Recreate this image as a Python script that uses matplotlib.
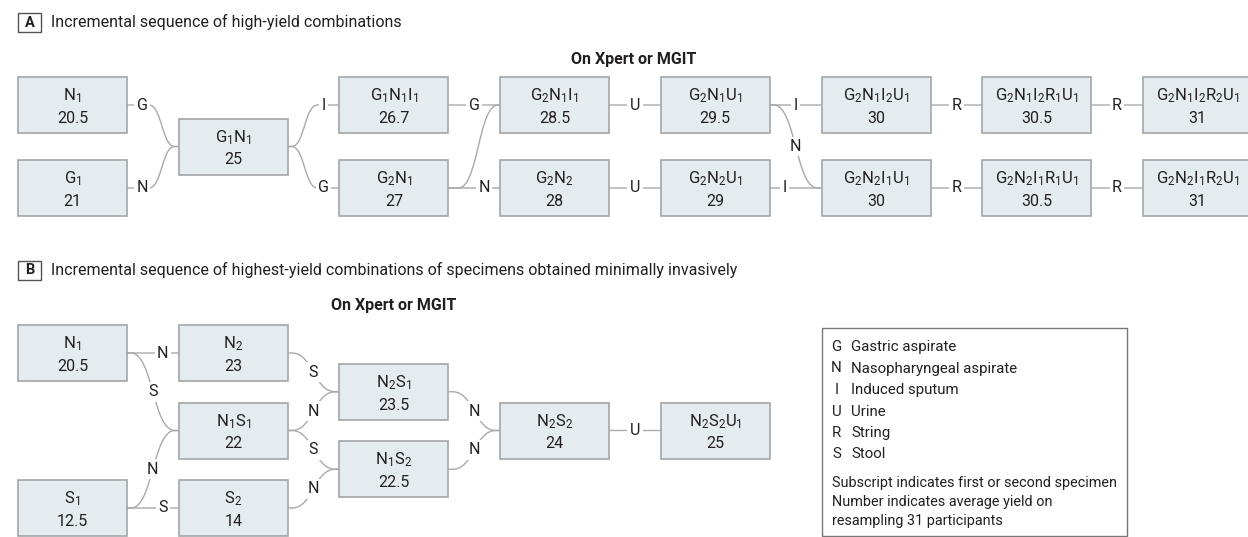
import matplotlib.pyplot as plt
from matplotlib.patches import Rectangle, PathPatch
from matplotlib.path import Path

plt.rcParams['font.family'] = ['Roboto', 'DejaVu Sans']
plt.rcParams['mathtext.fontset'] = 'custom'
plt.rcParams['mathtext.rm'] = 'Roboto'
plt.rcParams['mathtext.it'] = 'Roboto:italic'
plt.rcParams['mathtext.bf'] = 'Roboto:bold'

# ---- data: panel A (high-yield combinations)
a_nodes = ["N_1", "G_1", "G_1N_1", "G_1N_1I_1", "G_2N_1", "G_2N_1I_1", "G_2N_2",
           "G_2N_1U_1", "G_2N_2U_1", "G_2N_1I_2U_1", "G_2N_2I_1U_1",
           "G_2N_1I_2R_1U_1", "G_2N_2I_1R_1U_1", "G_2N_1I_2R_2U_1", "G_2N_2I_1R_2U_1"]
a_yields = [20.5, 21, 25, 26.7, 27, 28.5, 28, 29.5, 29, 30, 30, 30.5, 30.5, 31, 31]
a_edges = [("N_1", "G_1N_1", "G"), ("G_1", "G_1N_1", "N"),
           ("G_1N_1", "G_1N_1I_1", "I"), ("G_1N_1", "G_2N_1", "G"),
           ("G_1N_1I_1", "G_2N_1I_1", "G"), ("G_2N_1", "G_2N_1I_1", ""),
           ("G_2N_1", "G_2N_2", "N"),
           ("G_2N_1I_1", "G_2N_1U_1", "U"), ("G_2N_2", "G_2N_2U_1", "U"),
           ("G_2N_1U_1", "G_2N_1I_2U_1", "I"), ("G_2N_1U_1", "G_2N_2I_1U_1", "N"),
           ("G_2N_2U_1", "G_2N_2I_1U_1", "I"),
           ("G_2N_1I_2U_1", "G_2N_1I_2R_1U_1", "R"), ("G_2N_2I_1U_1", "G_2N_2I_1R_1U_1", "R"),
           ("G_2N_1I_2R_1U_1", "G_2N_1I_2R_2U_1", "R"), ("G_2N_2I_1R_1U_1", "G_2N_2I_1R_2U_1", "R")]

# ---- data: panel B (minimally invasive specimens)
b_nodes = ["N_1", "S_1", "N_2", "N_1S_1", "S_2", "N_2S_1", "N_1S_2", "N_2S_2", "N_2S_2U_1"]
b_yields = [20.5, 12.5, 23, 22, 14, 23.5, 22.5, 24, 25]
b_edges = [("N_1", "N_2", "N"), ("N_1", "N_1S_1", "S"), ("S_1", "N_1S_1", "N"),
           ("S_1", "S_2", "S"), ("N_2", "N_2S_1", "S"), ("N_1S_1", "N_2S_1", "N"),
           ("N_1S_1", "N_1S_2", "S"), ("S_2", "N_1S_2", "N"),
           ("N_2S_1", "N_2S_2", "N"), ("N_1S_2", "N_2S_2", "N"), ("N_2S_2", "N_2S_2U_1", "U")]

legend_keys = ["G", "N", "I", "U", "R", "S"]
legend_names = ["Gastric aspirate", "Nasopharyngeal aspirate", "Induced sputum",
                "Urine", "String", "Stool"]
legend_notes = ["Subscript indicates first or second specimen",
                "Number indicates average yield on",
                "resampling 31 participants"]

# ---- layout (grid column / row of each box, label placement per edge)
a_grid = [(0, 0), (0, 1), (1, 0.5), (2, 0), (2, 1), (3, 0), (3, 1), (4, 0), (4, 1),
          (5, 0), (5, 1), (6, 0), (6, 1), (7, 0), (7, 1)]
a_where = ["src", "src", "tgt", "tgt", "mid", "none", "tgt", "mid", "mid",
           "mid", "mid", "src", "mid", "mid", "mid", "mid"]
b_grid = [(0, 0), (0, 2), (1, 0), (1, 1), (1, 2), (2, 0.5), (2, 1.5), (3, 1), (4, 1)]
b_where = ["tgt", "mid", "mid", "tgt", "mid", "mid", "mid", "mid", "mid", "mid", "mid"]

FS = 11.5
LEG_FS = 10.4
BOX_W, BOX_H = 109, 56
COL0, COL_STEP = 18, 160.7
BOX_FILL, BOX_EDGE = "#e5ecf0", "#a3a6a8"
LINE_C = "#a9a9a9"
TXT = "#231f20"


def draw_node(ax, x, yc, name, val):
    ax.add_patch(Rectangle((x, yc - BOX_H / 2), BOX_W, BOX_H, facecolor=BOX_FILL,
                           edgecolor=BOX_EDGE, lw=1.2, zorder=2))
    ax.text(x + BOX_W / 2, yc - 4.5, "$\\mathregular{%s}$" % name, ha="center",
            va="baseline", fontsize=FS + 0.5, color=TXT, zorder=3)
    ax.text(x + BOX_W / 2, yc + 18, f"{val:g}", ha="center", va="baseline",
            fontsize=FS, color=TXT, zorder=3)


def draw_edge(ax, p0, p1, letter, where):
    (x0, y0), (x1, y1) = p0, p1
    lx = ly = None
    if where == "src":
        xa, xb = x0 + 22, x1 - 4
        lx, ly = x0 + 15, y0
    elif where == "tgt":
        xa, xb = x0 + 4, x1 - 22
        lx, ly = x1 - 16, y1
    elif where == "mid":
        xa, xb = x0 + 4, x1 - 4
        lx, ly = (xa + xb) / 2, (y0 + y1) / 2
    else:
        xa, xb = x0 + 10, x1 - 2
    xm = (xa + xb) / 2
    verts = [(x0, y0), (xa, y0), (xm, y0), (xm, y1), (xb, y1), (x1, y1)]
    codes = [Path.MOVETO, Path.LINETO, Path.CURVE4, Path.CURVE4, Path.CURVE4, Path.LINETO]
    ax.add_patch(PathPatch(Path(verts, codes), fill=False, edgecolor=LINE_C, lw=1.0, zorder=1))
    if letter:
        ax.text(lx, ly, letter, ha="center", va="center", fontsize=FS, color=TXT, zorder=3,
                bbox=dict(boxstyle="square,pad=0.15", fc="white", ec="none"))


def draw_panel(ax, nodes, yields, grid, edges, where, y0, pitch):
    pos = {}
    for name, val, (c, r) in zip(nodes, yields, grid):
        x = COL0 + COL_STEP * c
        yc = y0 + pitch * r
        pos[name] = (x, yc)
        draw_node(ax, x, yc, name, val)
    for (s, t, letter), w in zip(edges, where):
        xs, ys = pos[s]
        xt, yt = pos[t]
        draw_edge(ax, (xs + BOX_W, ys), (xt, yt), letter, w)


def panel_title(ax, tag, text, y):
    ax.add_patch(Rectangle((18, y - 9.5), 23, 19, facecolor="white", edgecolor="#555555", lw=1.0))
    ax.text(29.5, y + 0.5, tag, ha="center", va="center", fontsize=10.5, fontweight="bold", color=TXT)
    ax.text(51, y + 5, text, ha="left", va="baseline", fontsize=FS, color=TXT)


fig = plt.figure(figsize=(12.48, 5.37), dpi=100)
ax = fig.add_axes([0, 0, 1, 1])
ax.set_xlim(0, 1248)
ax.set_ylim(537, 0)
ax.axis("off")

panel_title(ax, "A", "Incremental sequence of high-yield combinations", 22.5)
ax.text(634, 64, "On Xpert or MGIT", ha="center", va="baseline", fontsize=FS,
        fontweight="bold", color=TXT)
draw_panel(ax, a_nodes, a_yields, a_grid, a_edges, a_where, 105, 83)

panel_title(ax, "B", "Incremental sequence of highest-yield combinations of specimens "
            "obtained minimally invasively", 270)
ax.text(394, 310, "On Xpert or MGIT", ha="center", va="baseline", fontsize=FS,
        fontweight="bold", color=TXT)
draw_panel(ax, b_nodes, b_yields, b_grid, b_edges, b_where, 353, 77.5)

# legend box
ax.add_patch(Rectangle((822, 328), 305, 208, facecolor="white", edgecolor="#777777", lw=1.0))
for i, (k, n) in enumerate(zip(legend_keys, legend_names)):
    yb = 351 + 21.5 * i
    ax.text(836.5, yb, k, ha="center", va="baseline", fontsize=LEG_FS + 0.4, color=TXT)
    ax.text(851, yb, n, ha="left", va="baseline", fontsize=LEG_FS + 0.4, color=TXT)
for i, line in enumerate(legend_notes):
    ax.text(832, 487 + 19 * i, line, ha="left", va="baseline", fontsize=LEG_FS, color=TXT)

fig.savefig("out.png", dpi=100)
